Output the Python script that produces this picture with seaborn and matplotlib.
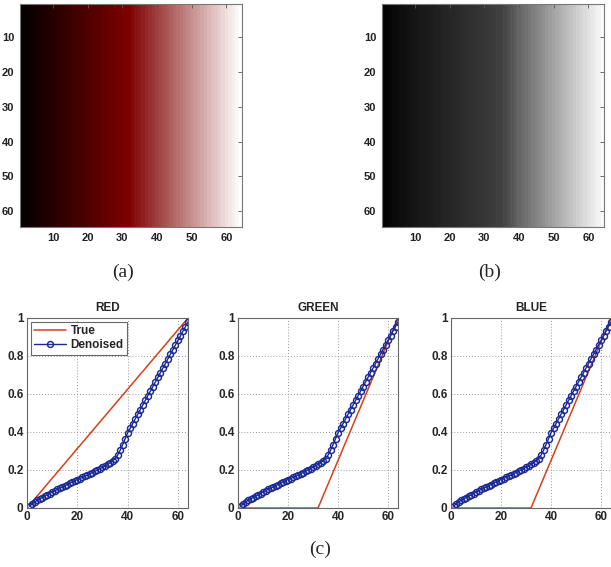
import numpy as np
import pandas as pd
import matplotlib
matplotlib.use("Agg")
import matplotlib.pyplot as plt
import seaborn as sns

# ---------------- data ----------------
columns = list(range(1, 65))

true_red = [0.016, 0.031, 0.047, 0.063, 0.078, 0.094, 0.109, 0.125, 0.141, 0.156,
            0.172, 0.188, 0.203, 0.219, 0.234, 0.250, 0.266, 0.281, 0.297, 0.313,
            0.328, 0.344, 0.359, 0.375, 0.391, 0.406, 0.422, 0.438, 0.453, 0.469,
            0.484, 0.500, 0.516, 0.531, 0.547, 0.563, 0.578, 0.594, 0.609, 0.625,
            0.641, 0.656, 0.672, 0.688, 0.703, 0.719, 0.734, 0.750, 0.766, 0.781,
            0.797, 0.813, 0.828, 0.844, 0.859, 0.875, 0.891, 0.906, 0.922, 0.938,
            0.953, 0.969, 0.984, 1.000]

true_green = [0.0] * 32 + [0.031, 0.063, 0.094, 0.125, 0.156, 0.188, 0.219, 0.250,
                           0.281, 0.313, 0.344, 0.375, 0.406, 0.438, 0.469, 0.500,
                           0.531, 0.563, 0.594, 0.625, 0.656, 0.688, 0.719, 0.750,
                           0.781, 0.813, 0.844, 0.875, 0.906, 0.938, 0.969, 1.000]

true_blue = [0.0] * 32 + [0.031, 0.063, 0.094, 0.125, 0.156, 0.188, 0.219, 0.250,
                          0.281, 0.313, 0.344, 0.375, 0.406, 0.438, 0.469, 0.500,
                          0.531, 0.563, 0.594, 0.625, 0.656, 0.688, 0.719, 0.750,
                          0.781, 0.813, 0.844, 0.875, 0.906, 0.938, 0.969, 1.000]

denoised = [0.010, 0.020, 0.030, 0.040, 0.046, 0.055, 0.061, 0.069, 0.076, 0.084,
            0.090, 0.098, 0.104, 0.110, 0.117, 0.123, 0.130, 0.137, 0.143, 0.150,
            0.155, 0.161, 0.167, 0.173, 0.180, 0.186, 0.193, 0.200, 0.207, 0.214,
            0.221, 0.229, 0.238, 0.248, 0.260, 0.278, 0.303, 0.333, 0.364, 0.395,
            0.419, 0.444, 0.468, 0.493, 0.517, 0.541, 0.566, 0.590, 0.614, 0.639,
            0.663, 0.687, 0.712, 0.736, 0.760, 0.785, 0.809, 0.833, 0.858, 0.882,
            0.906, 0.931, 0.955, 0.980]

channel_titles = ["RED", "GREEN", "BLUE"]
channel_true = [true_red, true_green, true_blue]
img_ticks = [10, 20, 30, 40, 50, 60]
line_xticks = [0, 20, 40, 60]
line_yticks = [0, 0.2, 0.4, 0.6, 0.8, 1]
line_yticklabels = ["0", "0.2", "0.4", "0.6", "0.8", "1"]
legend_labels = ["True", "Denoised"]
panel_labels = ["(a)", "(b)", "(c)"]

# ---------------- figure ----------------
sns.set_theme(style="white")
plt.rcParams["font.family"] = ["Liberation Sans", "DejaVu Sans"]

W, H = 611, 567
fig = plt.figure(figsize=(W / 100, H / 100), dpi=100)
fig.patch.set_facecolor("white")


def px(l, t, r, b):
    return [l / W, 1 - b / H, (r - l) / W, (b - t) / H]


tick_font = dict(fontsize=8, fontweight="bold", color="#222222")

# image (a): RGB built from the true channel profiles
rgb_row = np.stack([np.array(true_red), np.array(true_green), np.array(true_blue)], axis=-1)
img_a = np.repeat(rgb_row[np.newaxis, :, :], 64, axis=0)
# image (b): grey level from the denoised profile
img_b = np.repeat(np.array(denoised)[np.newaxis, :], 64, axis=0)

for rect, img, lab, cx in [((20, 4, 242, 227), img_a, panel_labels[0], 123),
                           ((382, 4, 604, 227), img_b, panel_labels[1], 490)]:
    ax = fig.add_axes(px(*rect))
    if img.ndim == 3:
        ax.imshow(img, extent=(0.5, 64.5, 64.5, 0.5), aspect="auto", interpolation="nearest")
    else:
        ax.imshow(img, cmap="gray", vmin=0, vmax=1, extent=(0.5, 64.5, 64.5, 0.5),
                  aspect="auto", interpolation="nearest")
    ax.set_xticks(img_ticks)
    ax.set_yticks(img_ticks)
    ax.set_xticklabels([str(t) for t in img_ticks], **tick_font)
    ax.set_yticklabels([str(t) for t in img_ticks], **tick_font)
    ax.tick_params(direction="in", length=3, width=0.6, top=True, right=True,
                   color="#555555", pad=4)
    for s in ax.spines.values():
        s.set_color("#777777")
        s.set_linewidth(0.8)
    fig.text(cx / W, 1 - 272 / H, lab, ha="center", va="center",
             fontsize=14, family="Liberation Serif")

# line plots
line_rects = [(27, 318, 188, 508), (238, 318, 398, 508), (451, 318, 611, 508)]
red_col = "#d8401a"
blue_col = "#1c2a96"
for i, (rect, title, tv) in enumerate(zip(line_rects, channel_titles, channel_true)):
    ax = fig.add_axes(px(*rect))
    df = pd.DataFrame({"x": columns, "true": tv, "den": denoised})
    sns.lineplot(data=df, x="x", y="true", ax=ax, color=red_col, linewidth=1.1,
                 label=legend_labels[0], legend=False)
    sns.lineplot(data=df, x="x", y="den", ax=ax, color=blue_col, linewidth=1.0,
                 marker="o", markersize=4.3, markerfacecolor="none",
                 markeredgecolor=blue_col, markeredgewidth=1.05,
                 label=legend_labels[1], legend=False)
    ax.set_xlim(0, 64)
    ax.set_ylim(0, 1)
    ax.set_xlabel("")
    ax.set_ylabel("")
    ax.set_xticks(line_xticks)
    ax.set_xticklabels([str(t) for t in line_xticks], fontsize=8.5, fontweight="bold")
    ax.set_yticks(line_yticks)
    ax.set_yticklabels(line_yticklabels, fontsize=8.5, fontweight="bold")
    ax.tick_params(direction="in", length=0, pad=2.5)
    ax.grid(True, linestyle=(0, (1, 2)), color="#999999", linewidth=0.7)
    for s in ax.spines.values():
        s.set_color("#666666")
        s.set_linewidth(0.8)
    ax.set_title(title, fontsize=8.5, fontweight="bold", pad=5)
    if i == 0:
        leg = ax.legend(loc="upper left", frameon=True, fancybox=False,
                        prop=dict(size=8.5, weight="bold"), borderpad=0.3,
                        handlelength=2.7, labelspacing=0.2, borderaxespad=0.3,
                        handletextpad=0.4)
        leg.get_frame().set_edgecolor("#444444")
        leg.get_frame().set_linewidth(0.8)

fig.text(320 / W, 1 - 549 / H, panel_labels[2], ha="center", va="center",
         fontsize=14, family="Liberation Serif")

fig.savefig("out.png", dpi=100, facecolor="white")
